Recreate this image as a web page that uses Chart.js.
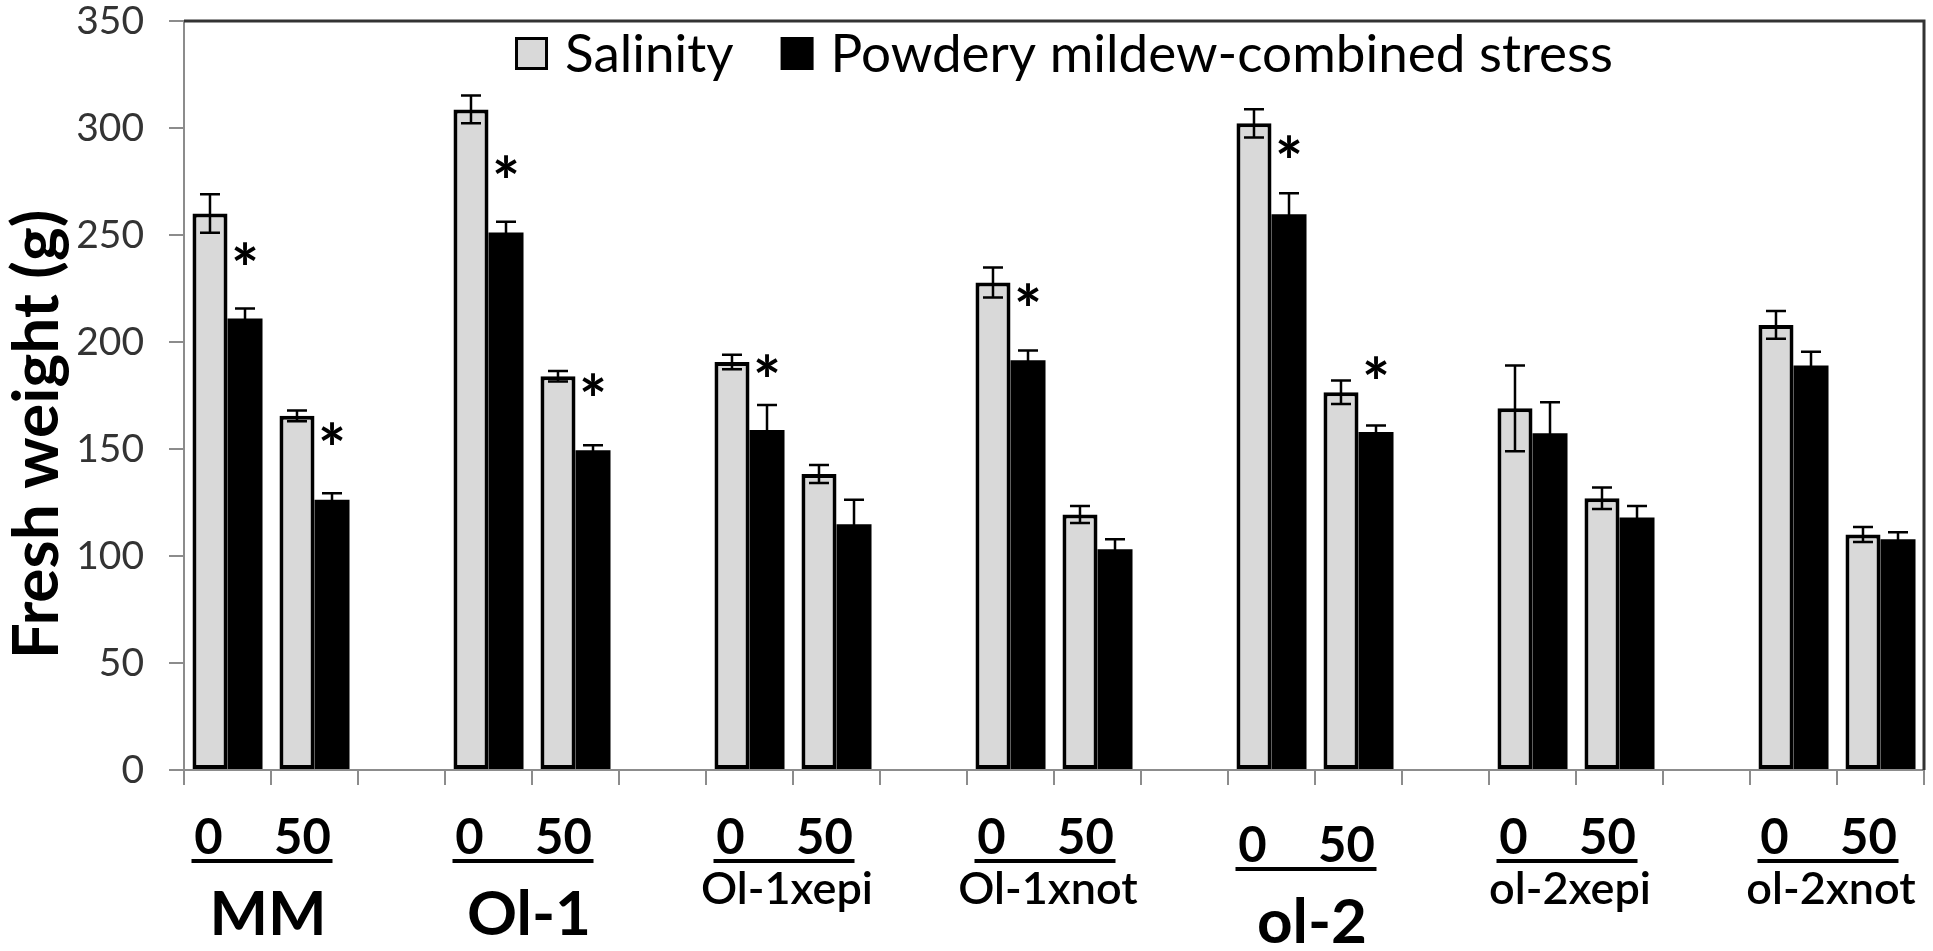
<!DOCTYPE html>
<html>
<head>
<meta charset="utf-8">
<script src="https://cdn.jsdelivr.net/npm/chart.js@4.4.1/dist/chart.umd.min.js"></script>
<style>
  html, body { margin: 0; padding: 0; background: #fff; }
  #wrap { width: 1933px; height: 951px; }
</style>
</head>
<body>
<div id="wrap"><canvas id="myChart"></canvas></div>
<script>
// genotypes, salt doses (mM NaCl)
const genotypes = ['MM', 'Ol-1', 'Ol-1xepi', 'Ol-1xnot', 'ol-2', 'ol-2xepi', 'ol-2xnot'];
const bigLabel = [true, true, false, false, true, false, false];
const doses = ['0', '50'];
const yTicks = [0, 50, 100, 150, 200, 250, 300, 350];

// fresh weight (g), two values per genotype: dose 0 then dose 50
const salinity    = [260, 165.5, 308.7, 184, 190.7, 138.3, 227.8, 119.4, 302.2, 176.5, 169, 127, 208, 110];
const salinityErr = [9, 2.5, 6.5, 2.5, 3.4, 4.2, 7, 4, 6.6, 5.5, 20, 5, 6.5, 3.5];
const combined    = [211, 126.3, 251.2, 149.4, 158.9, 114.8, 191.5, 103.2, 259.7, 158, 157.4, 118, 189, 107.8];
const combinedErr = [4.7, 3, 5, 2.3, 11.7, 11.5, 4.5, 4.6, 9.8, 3, 14.5, 5.4, 6.5, 3.3];
// level of the significance asterisk, null = none
const starAt      = [240, 156, 281, 179, 188, null, 221, null, 290, 187, null, null, null, null];

// build the category slots, with an empty slot between genotypes
const labels = [], salData = [], salErr = [], pmData = [], pmErr = [], stars = [];
genotypes.forEach((g, i) => {
    doses.forEach((d, j) => {
        const k = i * 2 + j;
        labels.push(g + ' ' + d);
        salData.push(salinity[k]);
        salErr.push(salinityErr[k]);
        pmData.push(combined[k]);
        pmErr.push(combinedErr[k]);
        stars.push(starAt[k]);
    });
    if (i < genotypes.length - 1) {
        labels.push('');
        salData.push(null); salErr.push(null);
        pmData.push(null); pmErr.push(null);
        stars.push(null);
    }
});

const FONT = 'Lato, "Open Sans", sans-serif';

const errorBars = {
    id: 'errorBars',
    afterDatasetsDraw(chart) {
        const ctx = chart.ctx, y = chart.scales.y;
        ctx.save();
        ctx.strokeStyle = '#000';
        ctx.lineWidth = 2.5;
        chart.data.datasets.forEach((ds, di) => {
            chart.getDatasetMeta(di).data.forEach((bar, k) => {
                const v = ds.data[k], e = ds.errors[k];
                if (v == null) return;
                const top = y.getPixelForValue(v + e), bot = y.getPixelForValue(v - e);
                ctx.beginPath();
                ctx.moveTo(bar.x, top); ctx.lineTo(bar.x, bot);
                ctx.moveTo(bar.x - 10, top); ctx.lineTo(bar.x + 10, top);
                ctx.moveTo(bar.x - 10, bot); ctx.lineTo(bar.x + 10, bot);
                ctx.stroke();
            });
        });
        // asterisks over the combined-stress bars
        const pmMeta = chart.getDatasetMeta(1);
        ctx.fillStyle = '#000';
        ctx.font = 'bold 66px ' + FONT;
        ctx.textAlign = 'center';
        ctx.textBaseline = 'alphabetic';
        stars.forEach((s, k) => {
            if (s == null) return;
            ctx.fillText('*', pmMeta.data[k].x, y.getPixelForValue(s) + 37);
        });
        ctx.restore();
    }
};

const decorations = {
    id: 'decorations',
    afterDraw(chart) {
        const ctx = chart.ctx, a = chart.chartArea, xs = chart.scales.x;
        ctx.save();
        // dark frame on top and right
        ctx.strokeStyle = '#333';
        ctx.lineWidth = 3;
        ctx.beginPath();
        ctx.moveTo(a.left, a.top); ctx.lineTo(a.right, a.top); ctx.lineTo(a.right, a.bottom);
        ctx.stroke();

        // category labels: doses underlined, genotype below
        ctx.fillStyle = '#000';
        ctx.textAlign = 'center';
        ctx.textBaseline = 'alphabetic';
        genotypes.forEach((g, i) => {
            const x0 = xs.getPixelForValue(i * 3), x1 = xs.getPixelForValue(i * 3 + 1);
            const dy = (g === 'ol-2') ? 8 : 0;
            ctx.font = 'bold 49px ' + FONT;
            ctx.fillText(doses[0], x0 - 19, a.bottom + 84 + dy);
            ctx.fillText(doses[1], x1 - 12, a.bottom + 84 + dy);
            ctx.fillRect(x0 - 36, a.bottom + 89 + dy, (x1 + 18) - (x0 - 36), 4);
            if (bigLabel[i]) {
                ctx.font = 'bold 62px ' + FONT;
                ctx.fillText(g, (x0 + x1) / 2 - 3, a.bottom + 165 + dy);
            } else {
                ctx.font = '600 45px ' + FONT;
                ctx.fillText(g, (x0 + x1) / 2 - 6, a.bottom + 134);
            }
        });

        // y-axis title
        ctx.save();
        ctx.translate(37, (a.top + a.bottom) / 2 + 39);
        ctx.rotate(-Math.PI / 2);
        ctx.font = 'bold 64px ' + FONT;
        ctx.textBaseline = 'middle';
        ctx.fillText('Fresh weight (g)', 0, 0);
        ctx.restore();

        // legend inside the plot
        const ds = chart.data.datasets;
        ctx.font = '53px ' + FONT;
        const box = 33, gapBox = 17, gapItem = 47;
        const w0 = ctx.measureText(ds[0].label).width, w1 = ctx.measureText(ds[1].label).width;
        const total = box + gapBox + w0 + gapItem + box + gapBox + w1;
        let x = (a.left + a.right) / 2 + 10 - total / 2;
        const bt = a.top + 16;
        ctx.textAlign = 'left';
        ctx.fillStyle = ds[0].backgroundColor;
        ctx.fillRect(x, bt, box, box);
        ctx.strokeStyle = '#000';
        ctx.lineWidth = 3;
        ctx.strokeRect(x + 1.5, bt + 1.5, box - 3, box - 3);
        ctx.fillStyle = '#000';
        x += box + gapBox;
        ctx.fillText(ds[0].label, x, bt + 35);
        x += w0 + gapItem;
        ctx.fillStyle = ds[1].backgroundColor;
        ctx.fillRect(x, bt, box, box);
        x += box + gapBox;
        ctx.fillStyle = '#000';
        ctx.fillText(ds[1].label, x, bt + 35);
        ctx.restore();
    }
};

const ctx = document.getElementById('myChart').getContext('2d');
const myChart = new Chart(ctx, {
    type: 'bar',
    data: {
        labels: labels,
        datasets: [{
            label: 'Salinity',
            data: salData,
            errors: salErr,
            backgroundColor: '#d9d9d9',
            borderColor: '#000',
            borderWidth: 4,
            borderSkipped: false
        }, {
            label: 'Powdery mildew-combined stress',
            data: pmData,
            errors: pmErr,
            backgroundColor: '#000',
            borderWidth: 0
        }]
    },
    options: {
        responsive: true,
        maintainAspectRatio: false,
        animation: false,
        devicePixelRatio: 1,
        categoryPercentage: 0.805,
        barPercentage: 1.0,
        layout: { padding: { top: 21, right: 9, left: 0, bottom: 0 } },
        plugins: {
            legend: { display: false },
            tooltip: { enabled: false }
        },
        scales: {
            x: {
                offset: true,
                grid: { offset: true, drawOnChartArea: false, color: '#8c8c8c', lineWidth: 2, tickLength: 15 },
                border: { color: '#8c8c8c', width: 2 },
                ticks: { autoSkip: false, maxRotation: 0, callback: () => '' },
                afterFit: (scale) => { scale.height = 181; }
            },
            y: {
                min: 0,
                max: 350,
                afterBuildTicks: (scale) => { scale.ticks = yTicks.map(v => ({ value: v })); },
                grid: { drawOnChartArea: false, color: '#8c8c8c', lineWidth: 2, tickLength: 15 },
                border: { color: '#8c8c8c', width: 2 },
                ticks: {
                    padding: 25,
                    color: '#333',
                    font: { family: FONT, size: 39, lineHeight: 1.0 }
                },
                afterFit: (scale) => {
                    scale.width = 184;
                    scale.paddingTop = 0;
                    scale.paddingBottom = 0;
                }
            }
        }
    },
    plugins: [errorBars, decorations]
});
</script>
</body>
</html>
